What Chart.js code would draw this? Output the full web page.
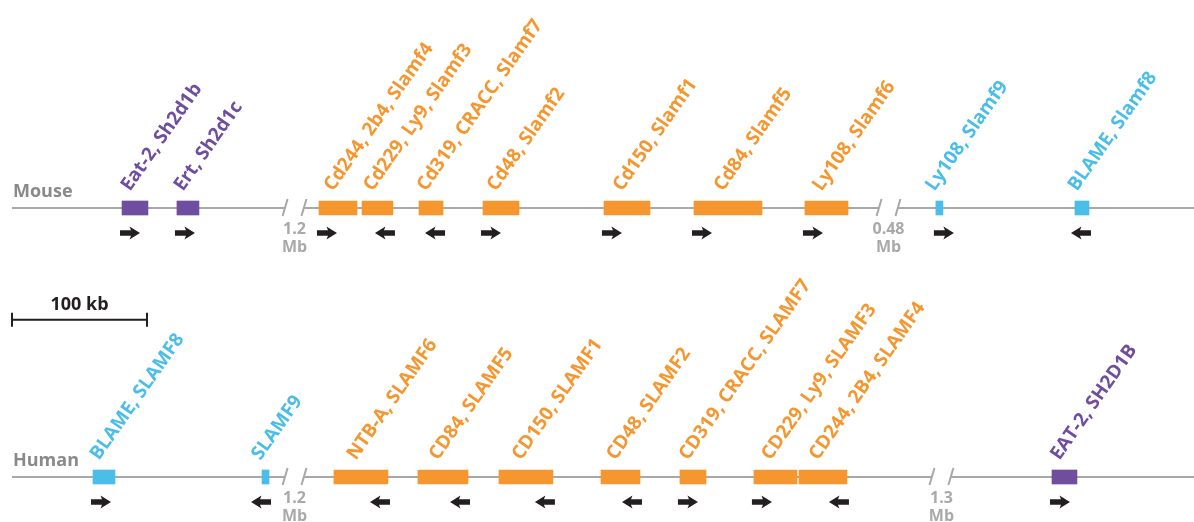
<!DOCTYPE html>
<html>
<head>
<meta charset="utf-8">
<script src="https://cdn.jsdelivr.net/npm/chart.js@4/dist/chart.umd.min.js"></script>
<style>
  html, body { margin: 0; padding: 0; background: #ffffff; }
  #wrap { width: 1194px; height: 522px; position: relative; }
</style>
</head>
<body>
<div id="wrap"><canvas id="map"></canvas></div>
<script>
// Row positions (category index on the vertical axis)
const rows = ['Mouse', 'Human'];

// Mouse SLAM locus, positions in kb along the drawn axis
const mouseGenes  = ['Eat-2, Sh2d1b', 'Ert, Sh2d1c', 'Cd244, 2b4, Slamf4', 'Cd229, Ly9, Slamf3',
                     'Cd319, CRACC, Slamf7', 'Cd48, Slamf2', 'Cd150, Slamf1', 'Cd84, Slamf5',
                     'Ly108, Slamf6', 'Ly108, Slamf9', 'BLAME, Slamf8'];
const mouseStart  = [81.5, 122.2, 227.4, 259.3, 301.5, 348.9, 438.5, 505.2, 587.4, 684.4, 787.4];
const mouseEnd    = [100.7, 138.5, 255.6, 282.2, 319.3, 375.6, 472.6, 555.6, 619.3, 689.6, 797.8];
const mouseStrand = [1, 1, 1, -1, -1, 1, 1, 1, 1, 1, -1];
const mouseFamily = ['sap', 'sap', 'slam', 'slam', 'slam', 'slam', 'slam', 'slam', 'slam', 'other', 'other'];
const mouseBreaks = [209.3, 649.3];
const mouseBreakLabels = [['1.2', 'Mb'], ['0.48', 'Mb']];

// Human SLAM locus
const humanGenes  = ['BLAME, SLAMF8', 'SLAMF9', 'NTB-A, SLAMF6', 'CD84, SLAMF5', 'CD150, SLAMF1',
                     'CD48, SLAMF2', 'CD319, CRACC, SLAMF7', 'CD229, Ly9, SLAMF3',
                     'CD244, 2B4, SLAMF4', 'EAT-2, SH2D1B'];
const humanStart  = [60.0, 185.2, 238.5, 300.7, 360.7, 436.3, 494.8, 549.6, 583.0, 770.4];
const humanEnd    = [76.3, 190.4, 278.5, 337.8, 400.7, 465.2, 514.1, 581.5, 618.5, 788.9];
const humanStrand = [1, -1, -1, -1, -1, -1, 1, 1, -1, 1];
const humanFamily = ['other', 'other', 'slam', 'slam', 'slam', 'slam', 'slam', 'slam', 'slam', 'sap'];
const humanBreaks = [209.3, 688.5];
const humanBreakLabels = [['1.2', 'Mb'], ['1.3', 'Mb']];

// Scale bar
const scaleBarKb = 100;
const scaleBarLabel = '100 kb';

// Axis extent in kb
const axisStart = 0;
const axisEnd = 875.6;

const familyColor = { sap: '#6f4e9f', slam: '#f5962f', other: '#4bbde9' };
const lineColor = '#a8a8aa';
const FONT = '"Open Sans", "DejaVu Sans", sans-serif';

const loci = [
  { row: 0, genes: mouseGenes, start: mouseStart, end: mouseEnd, strand: mouseStrand, family: mouseFamily, breaks: mouseBreaks, breakLabels: mouseBreakLabels },
  { row: 1, genes: humanGenes, start: humanStart, end: humanEnd, strand: humanStrand, family: humanFamily, breaks: humanBreaks, breakLabels: humanBreakLabels }
];

const breakHalf = 7; // kb of chromosome line hidden on each side of a break

// chromosome backbone: one line dataset per row, broken at each discontinuity
function backbone(locus) {
  const pts = [{ x: axisStart, y: locus.row }];
  locus.breaks.forEach(b => {
    pts.push({ x: b - breakHalf, y: locus.row });
    pts.push({ x: b, y: null });
    pts.push({ x: b + breakHalf, y: locus.row });
  });
  pts.push({ x: axisEnd, y: locus.row });
  return pts;
}

const datasets = [];
loci.forEach(l => {
  datasets.push({
    type: 'line',
    data: backbone(l),
    borderColor: lineColor,
    borderWidth: 2.2,
    pointRadius: 0,
    spanGaps: false,
    order: 2
  });
  datasets.push({
    type: 'bar',
    indexAxis: 'y',
    data: l.start.map((s, i) => ({ x: [s, l.end[i]], y: l.row })),
    backgroundColor: l.family.map(f => familyColor[f]),
    borderWidth: 0,
    borderSkipped: false,
    barThickness: 14,
    grouped: false,
    order: 1
  });
});

function drawArrow(ctx, x0, y, dir) {
  // 20 px block arrow; x0 is the tail end
  const len = 20, head = 9, halfHead = 6.5, halfShaft = 2.8;
  const tip = x0 + dir * len;
  const neck = tip - dir * head;
  ctx.beginPath();
  ctx.moveTo(x0, y - halfShaft);
  ctx.lineTo(neck, y - halfShaft);
  ctx.lineTo(neck - dir * 1.5, y - halfHead);
  ctx.lineTo(tip, y);
  ctx.lineTo(neck - dir * 1.5, y + halfHead);
  ctx.lineTo(neck, y + halfShaft);
  ctx.lineTo(x0, y + halfShaft);
  ctx.closePath();
  ctx.fill();
}

const annotations = {
  id: 'locusAnnotations',
  afterDatasetsDraw(chart) {
    const ctx = chart.ctx;
    const xs = chart.scales.x, ys = chart.scales.y;
    ctx.save();
    loci.forEach(l => {
      const yRow = ys.getPixelForValue(l.row);

      // species name
      ctx.fillStyle = '#8a8a8c';
      ctx.font = '700 18px ' + FONT;
      ctx.textAlign = 'left';
      ctx.textBaseline = 'alphabetic';
      ctx.fillText(rows[l.row], xs.getPixelForValue(axisStart) + 1, yRow - 11);

      // gene names, strand arrows
      l.genes.forEach((g, i) => {
        const xa = xs.getPixelForValue(l.start[i]);
        const xb = xs.getPixelForValue(l.end[i]);
        ctx.save();
        ctx.translate((xa + xb) / 2 - 5, yRow - 16);
        ctx.rotate(-55 * Math.PI / 180);
        ctx.fillStyle = familyColor[l.family[i]];
        ctx.font = '700 19px ' + FONT;
        ctx.textAlign = 'left';
        ctx.fillText(g, 0, 0);
        ctx.restore();

        ctx.fillStyle = '#231f20';
        if (l.strand[i] > 0) drawArrow(ctx, xa - 2, yRow + 25, 1);
        else drawArrow(ctx, xb + 2, yRow + 25, -1);
      });

      // break marks and gap sizes
      l.breaks.forEach((b, i) => {
        ctx.strokeStyle = lineColor;
        ctx.lineWidth = 2;
        [b - breakHalf, b + breakHalf].forEach(v => {
          const px = xs.getPixelForValue(v);
          ctx.beginPath();
          ctx.moveTo(px + 2.5, yRow - 9);
          ctx.lineTo(px - 2.5, yRow + 8);
          ctx.stroke();
        });
        const cx = xs.getPixelForValue(b);
        ctx.fillStyle = '#a9a9ab';
        ctx.font = '700 16px ' + FONT;
        ctx.textAlign = 'center';
        ctx.textBaseline = 'middle';
        ctx.fillText(l.breakLabels[i][0], cx, yRow + 21);
        ctx.fillText(l.breakLabels[i][1], cx, yRow + 39);
      });
    });

    // scale bar
    const x0 = xs.getPixelForValue(axisStart), x1 = xs.getPixelForValue(axisStart + scaleBarKb);
    const yb = ys.getPixelForValue(0.415);
    ctx.strokeStyle = '#231f20';
    ctx.lineWidth = 2;
    ctx.beginPath();
    ctx.moveTo(x0, yb); ctx.lineTo(x1, yb);
    ctx.moveTo(x0, yb - 7); ctx.lineTo(x0, yb + 7);
    ctx.moveTo(x1, yb - 7); ctx.lineTo(x1, yb + 7);
    ctx.stroke();
    ctx.fillStyle = '#231f20';
    ctx.font = '700 18px ' + FONT;
    ctx.textAlign = 'center';
    ctx.textBaseline = 'alphabetic';
    ctx.fillText(scaleBarLabel, (x0 + x1) / 2, yb - 10);
    ctx.restore();
  }
};

// vertical axis maps row 0 to y=208 px and row 1 to y=477 px
const rowGap = 269;
new Chart(document.getElementById('map'), {
  type: 'bar',
  data: { datasets },
  options: {
    responsive: true,
    maintainAspectRatio: false,
    animation: false,
    layout: { padding: 0 },
    plugins: { legend: { display: false }, tooltip: { enabled: false } },
    scales: {
      x: { type: 'linear', offset: false, min: -12 / 1.35, max: axisEnd, display: false },
      y: { type: 'linear', offset: false, min: -208 / rowGap, max: 1 + (522 - 477) / rowGap, reverse: true, display: false }
    }
  },
  plugins: [annotations]
});
</script>
</body>
</html>
